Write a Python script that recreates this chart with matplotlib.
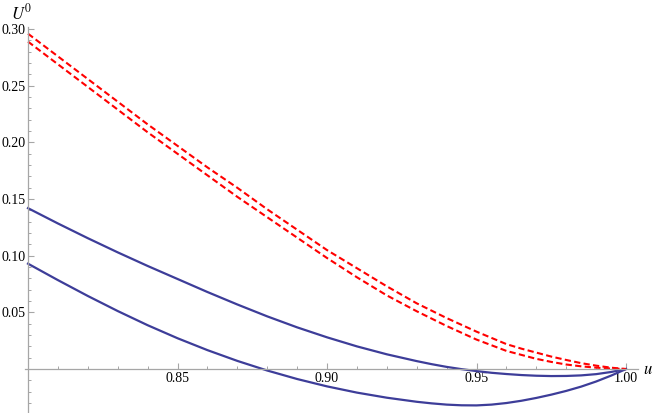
import matplotlib
matplotlib.use("Agg")
import matplotlib.pyplot as plt
from matplotlib.ticker import FixedLocator, NullFormatter

# values
u = [0.80, 0.81, 0.82, 0.83, 0.84, 0.85, 0.86, 0.87, 0.88, 0.89, 0.90,
     0.91, 0.92, 0.93, 0.935, 0.94, 0.945, 0.95, 0.955, 0.96, 0.965, 0.97,
     0.975, 0.98, 0.985, 0.99, 0.995, 1.00]

red_upper = [0.296, 0.276, 0.256, 0.236, 0.216, 0.197, 0.178, 0.160, 0.141,
             0.123, 0.105, 0.089, 0.073, 0.058, 0.0515, 0.045, 0.039, 0.033,
             0.0275, 0.022, 0.018, 0.0145, 0.011, 0.008, 0.0052, 0.003,
             0.0012, 0.000]
red_lower = [0.289, 0.269, 0.249, 0.229, 0.209, 0.190, 0.171, 0.152, 0.134,
             0.116, 0.098, 0.081, 0.065, 0.051, 0.0445, 0.038, 0.032, 0.026,
             0.021, 0.016, 0.0125, 0.009, 0.0063, 0.004, 0.0024, 0.0012,
             0.0004, 0.000]
blue_upper = [0.142, 0.1285, 0.1155, 0.1030, 0.0910, 0.0795, 0.0680, 0.0570,
              0.0465, 0.0368, 0.0280, 0.0200, 0.0130, 0.0070, 0.0043, 0.0019,
              -0.0001, -0.0018, -0.0033, -0.0044, -0.0053, -0.0059, -0.0062,
              -0.0061, -0.0056, -0.0045, -0.0026, 0.000]
blue_lower = [0.093, 0.0785, 0.0645, 0.0512, 0.0387, 0.0272, 0.0167, 0.0072,
              -0.0013, -0.0088, -0.0153, -0.0208, -0.0253, -0.0289, -0.0303,
              -0.0314, -0.0320, -0.0321, -0.0314, -0.0300, -0.0280, -0.0255,
              -0.0226, -0.0193, -0.0155, -0.0110, -0.0058, 0.000]

x_major = [0.85, 0.90, 0.95, 1.00]
x_labels = ["0.85", "0.90", "0.95", "1.00"]
y_major = [0.05, 0.10, 0.15, 0.20, 0.25, 0.30]
y_labels = ["0.05", "0.10", "0.15", "0.20", "0.25", "0.30"]
x_minor = [0.80 + 0.01 * i for i in range(21)]
y_minor = [-0.03 + 0.01 * i for i in range(34)]

plt.rcParams["font.family"] = ["Liberation Serif", "DejaVu Serif"]
plt.rcParams["mathtext.fontset"] = "stix"

W, H = 654, 413
fig = plt.figure(figsize=(W / 100, H / 100), dpi=100)
ax = fig.add_axes([25 / W, 0, 613 / W, 386 / H])

blue = "#3d3d99"
ax.plot(u, blue_upper, color=blue, lw=1.6)
ax.plot(u, blue_lower, color=blue, lw=1.6)
ax.plot(u, red_upper, color="red", lw=1.5, dashes=(3, 1.6))
ax.plot(u, red_lower, color="red", lw=1.5, dashes=(3, 1.6))

ax.set_xlim(0.799, 1.004)
ax.set_ylim(-0.0388, 0.3019)

axis_grey = "#a6a6a6"
for side in ["top", "right"]:
    ax.spines[side].set_visible(False)
ax.spines["left"].set_position(("data", 0.8))
ax.spines["bottom"].set_position(("data", 0.0))
for side in ["left", "bottom"]:
    ax.spines[side].set_color(axis_grey)
    ax.spines[side].set_linewidth(0.9)

ax.xaxis.set_major_locator(FixedLocator(x_major))
ax.set_xticklabels(x_labels)
ax.xaxis.set_minor_locator(FixedLocator(x_minor))
ax.yaxis.set_major_locator(FixedLocator(y_major))
ax.set_yticklabels(y_labels)
ax.yaxis.set_minor_locator(FixedLocator(y_minor))
ax.xaxis.set_minor_formatter(NullFormatter())
ax.yaxis.set_minor_formatter(NullFormatter())

ax.tick_params(which="major", direction="in", length=4, width=0.8,
               color=axis_grey, labelsize=10, labelcolor="black", pad=2)
ax.tick_params(which="minor", direction="in", length=2.3, width=0.7,
               color=axis_grey)

fig.text(22 / W, 1 - 13 / H, "$U^0$", fontsize=12, ha="center", va="center")
fig.text(648 / W, 1 - 370 / H, "$u$", fontsize=12, ha="center", va="center")

fig.savefig("out.png", dpi=100)
